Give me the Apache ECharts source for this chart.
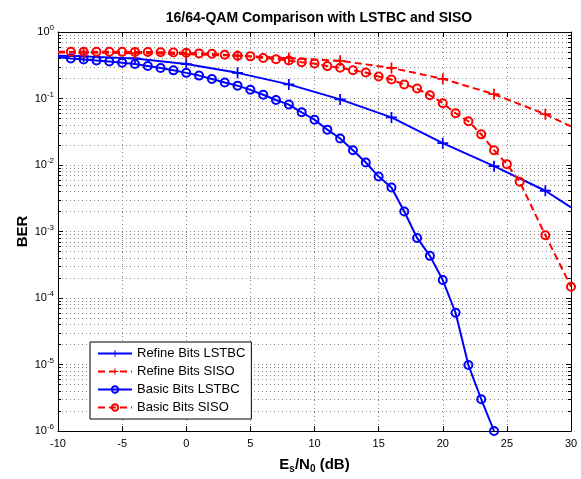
<!DOCTYPE html>
<html><head><meta charset="utf-8">
<script src="https://cdn.jsdelivr.net/npm/echarts@6/dist/echarts.min.js"></script>
<style>html,body{margin:0;padding:0;background:#fff}#c{width:581px;height:479px}</style>
</head><body><div id="c"></div>
<script>
// ---- data ----
const xTicks = [-10, -5, 0, 5, 10, 15, 20, 25, 30];
const yDecades = [1e-6, 1e-5, 1e-4, 1e-3, 1e-2, 1e-1, 1];

const snrRefine = [-10, -8, -4, 0, 4, 8, 12, 16, 20, 24, 28, 30];
const berRefineLSTBC = [0.44, 0.43, 0.40, 0.33, 0.243, 0.163, 0.097, 0.052, 0.0213, 0.0096, 0.0041, 0.0023];
const berRefineSISO = [0.49, 0.49, 0.48, 0.465, 0.44, 0.405, 0.368, 0.288, 0.198, 0.116, 0.058, 0.038];

const snrBasicLSTBC = [-10, -9, -8, -7, -6, -5, -4, -3, -2, -1, 0, 1, 2, 3, 4, 5, 6, 7, 8, 9, 10, 11, 12, 13, 14, 15, 16, 17, 18, 19, 20, 21, 22, 23, 24];
const berBasicLSTBC = [0.42, 0.40, 0.387, 0.374, 0.36, 0.346, 0.33, 0.309, 0.288, 0.265, 0.243, 0.221, 0.197, 0.174, 0.156, 0.135, 0.114, 0.095, 0.081, 0.062, 0.048, 0.034, 0.025, 0.0167, 0.0109, 0.0067, 0.0046, 0.0020, 0.00080, 0.00043, 0.000186, 0.000060, 0.0000098, 0.0000030, 0.0000010];

const snrBasicSISO = [-10, -9, -8, -7, -6, -5, -4, -3, -2, -1, 0, 1, 2, 3, 4, 5, 6, 7, 8, 9, 10, 11, 12, 13, 14, 15, 16, 17, 18, 19, 20, 21, 22, 23, 24, 25, 26, 28, 30];
const berBasicSISO = [0.505, 0.505, 0.505, 0.505, 0.504, 0.503, 0.502, 0.5, 0.497, 0.492, 0.487, 0.477, 0.47, 0.455, 0.44, 0.43, 0.406, 0.39, 0.372, 0.352, 0.335, 0.307, 0.29, 0.266, 0.246, 0.214, 0.193, 0.162, 0.141, 0.112, 0.085, 0.060, 0.0455, 0.0289, 0.0167, 0.0103, 0.0056, 0.00088, 0.000148];

const seriesNames = ['Refine Bits LSTBC', 'Refine Bits SISO', 'Basic Bits LSTBC', 'Basic Bits SISO'];

// ---- build ----
const FONT = '"Liberation Sans", Arial, Helvetica, sans-serif';
const BLUE = '#0000ff', RED = '#ff0000';
const PLUS = 'path://M-1.6,-10L1.6,-10L1.6,-1.6L10,-1.6L10,1.6L1.6,1.6L1.6,10L-1.6,10L-1.6,1.6L-10,1.6L-10,-1.6L-1.6,-1.6Z';

function pts(xs, ys, noMark) {
  return xs.map((x, i) => noMark.indexOf(i) >= 0 ? { value: [x, ys[i]], symbol: 'none' } : [x, ys[i]]);
}

function mkSeries(name, data, color, dashed, marker) {
  return {
    name, type: 'line', data, clip: true,
    lineStyle: { color, width: 2, type: dashed ? [7, 4] : 'solid' },
    symbol: marker === 'plus' ? PLUS : 'circle',
    symbolSize: marker === 'plus' ? 11 : 8,
    itemStyle: marker === 'plus' ? { color } : { color: 'rgba(0,0,0,0)', borderColor: color, borderWidth: 2 },
    emphasis: { disabled: true },
    animation: false,
    z: 3
  };
}

const yLabelFmt = v => '{b|10}{s|' + Math.round(Math.log10(v)) + '}';
const yRich = {
  b: { fontSize: 11, fontFamily: FONT, color: '#000' },
  s: { fontSize: 8, fontFamily: FONT, color: '#000', padding: [0, 0, 8, 0] }
};

const gridLine = { type: [1, 3], color: '#888', width: 1 };
const frame = { show: true, onZero: false, lineStyle: { color: '#000', width: 1 } };

const option = {
  animation: false,
  backgroundColor: '#fff',
  title: {
    text: '16/64-QAM Comparison with LSTBC and SISO',
    left: 314, top: 6, textAlign: 'center',
    textStyle: { fontSize: 14, fontWeight: 'bold', fontFamily: FONT, color: '#000' }
  },
  grid: { left: 58, right: 10, top: 32, bottom: 44, containLabel: false },
  legend: {
    data: seriesNames,
    orient: 'vertical', left: 90, top: 342,
    itemWidth: 34, itemHeight: 8, itemGap: 3,
    padding: [4, 6, 4, 7],
    backgroundColor: '#fff', borderColor: '#000', borderWidth: 1,
    textStyle: { fontSize: 13, fontFamily: FONT, color: '#000', lineHeight: 15 },
    selectedMode: false
  },
  xAxis: [{
    type: 'value', min: xTicks[0], max: xTicks[xTicks.length - 1], interval: 5,
    position: 'bottom',
    name: '{b|E}{sub|s}{b|/N}{sub|0}{b| (dB)}',
    nameLocation: 'middle', nameGap: 24, nameMoveOverlap: false,
    nameTextStyle: {
      rich: {
        b: { fontSize: 15, fontWeight: 'bold', fontFamily: FONT, color: '#000' },
        sub: { fontSize: 10, fontWeight: 'bold', fontFamily: FONT, color: '#000', padding: [9, 0, 0, 0] }
      }
    },
    axisLine: frame,
    axisTick: { show: true, inside: true, length: 5, lineStyle: { color: '#000' } },
    axisLabel: { fontSize: 11, fontFamily: FONT, color: '#000', margin: 7 },
    splitLine: { show: true, lineStyle: gridLine }
  }, {
    type: 'value', min: xTicks[0], max: xTicks[xTicks.length - 1], interval: 5,
    position: 'top',
    axisLine: frame,
    axisTick: { show: true, inside: true, length: 5, lineStyle: { color: '#000' } },
    axisLabel: { show: false },
    splitLine: { show: false }
  }],
  yAxis: [{
    type: 'log', logBase: 10, min: yDecades[0], max: yDecades[yDecades.length - 1],
    position: 'left',
    name: 'BER', nameLocation: 'middle', nameGap: 28, nameRotate: 90, nameMoveOverlap: false,
    nameTextStyle: { fontSize: 15, fontWeight: 'bold', fontFamily: FONT, color: '#000' },
    axisLine: frame,
    axisTick: { show: true, inside: true, length: 5, lineStyle: { color: '#000' } },
    minorTick: { show: true, splitNumber: 9, length: 3, lineStyle: { color: '#000' } },
    minorSplitLine: { show: true, lineStyle: gridLine },
    axisLabel: { formatter: yLabelFmt, rich: yRich, margin: 4 },
    splitLine: { show: true, lineStyle: gridLine }
  }, {
    type: 'log', logBase: 10, min: yDecades[0], max: yDecades[yDecades.length - 1],
    position: 'right',
    axisLine: frame,
    axisTick: { show: true, inside: true, length: 5, lineStyle: { color: '#000' } },
    minorTick: { show: true, splitNumber: 9, length: 3, lineStyle: { color: '#000' } },
    axisLabel: { show: false },
    splitLine: { show: false }
  }],
  series: [
    mkSeries(seriesNames[0], pts(snrRefine, berRefineLSTBC, [0, snrRefine.length - 1]), BLUE, false, 'plus'),
    mkSeries(seriesNames[1], pts(snrRefine, berRefineSISO, [0, snrRefine.length - 1]), RED, true, 'plus'),
    mkSeries(seriesNames[2], pts(snrBasicLSTBC, berBasicLSTBC, [0]), BLUE, false, 'circle'),
    mkSeries(seriesNames[3], pts(snrBasicSISO, berBasicSISO, [0]), RED, true, 'circle')
  ]
};

const chart = echarts.init(document.getElementById('c'), null, { renderer: 'canvas' });
chart.setOption(option);
</script>
</body></html>
